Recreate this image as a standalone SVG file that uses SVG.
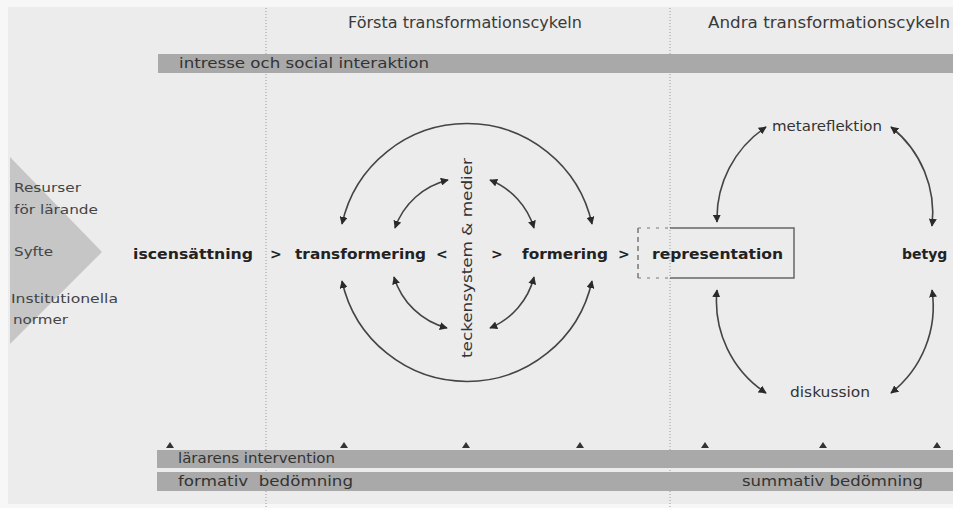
<svg xmlns="http://www.w3.org/2000/svg" width="953" height="508" viewBox="0 0 953 508">
<style>
text{font-family:"DejaVu Sans","Liberation Sans",sans-serif;fill:#333}
.t{font-size:15px;fill:#3a3a3a}
.lbl{font-size:13px;fill:#444}
.m{font-size:14px;font-weight:bold;fill:#222}
.s{font-size:13.5px;fill:#333}
.bar{fill:#a9a9a9}
.dot{stroke:#9a9a9a;stroke-width:1;stroke-dasharray:1 2;fill:none}
.arc{fill:none;stroke:#444;stroke-width:1.6;marker-start:url(#ah);marker-end:url(#ah)}
.tri{fill:#333}
</style>
<defs>
<marker id="ah" viewBox="0 0 10 10" refX="9" refY="5" markerWidth="5" markerHeight="5" orient="auto-start-reverse" markerUnits="strokeWidth">
<path d="M0,0 L10,5 L0,10 z" fill="#2a2a2a"/>
</marker>
</defs>
<rect width="953" height="508" fill="#f7f7f7"/>
<rect x="8" y="7" width="945" height="497" fill="#ececec"/>
<g id="dividers">
<line class="dot" x1="266" y1="8" x2="266" y2="508"/>
<line class="dot" x1="670" y1="8" x2="670" y2="508"/>
</g>
<g id="titles">
<text class="t" x="348" y="28" textLength="234" lengthAdjust="spacingAndGlyphs">Första transformationscykeln</text>
<text class="t" x="708" y="28" textLength="242" lengthAdjust="spacingAndGlyphs">Andra transformationscykeln</text>
</g>
<g id="interest-bar">
<rect class="bar" x="158" y="54" width="795" height="19"/>
<text class="s" x="179" y="68" textLength="250" lengthAdjust="spacingAndGlyphs">intresse och social interaktion</text>
</g>
<g id="inputs">
<polygon points="10,157 102,252 10,344" fill="#c6c6c6"/>
<text class="lbl" x="14" y="192" textLength="67" lengthAdjust="spacingAndGlyphs">Resurser</text>
<text class="lbl" x="14" y="214" textLength="84" lengthAdjust="spacingAndGlyphs">för lärande</text>
<text class="lbl" x="14" y="256" textLength="39" lengthAdjust="spacingAndGlyphs">Syfte</text>
<text class="lbl" x="11" y="303" textLength="107" lengthAdjust="spacingAndGlyphs">Institutionella</text>
<text class="lbl" x="13" y="324" textLength="55" lengthAdjust="spacingAndGlyphs">normer</text>
</g>
<g id="iscensattning"><text class="m" x="133" y="259" textLength="120" lengthAdjust="spacingAndGlyphs">iscensättning</text></g>
<g id="gt1"><text class="m" x="270" y="259">&gt;</text></g>
<g id="transformering"><text class="m" x="295" y="259" textLength="131" lengthAdjust="spacingAndGlyphs">transformering</text></g>
<g id="lt"><text class="m" x="436" y="259">&lt;</text></g>
<g id="teckensystem"><text class="s" transform="translate(472,358) rotate(-90)" textLength="200" lengthAdjust="spacingAndGlyphs">teckensystem &amp; medier</text></g>
<g id="gt2"><text class="m" x="491" y="259">&gt;</text></g>
<g id="formering"><text class="m" x="522" y="259" textLength="86" lengthAdjust="spacingAndGlyphs">formering</text></g>
<g id="gt3"><text class="m" x="618" y="259">&gt;</text></g>
<g id="representation">
<path d="M638,228 V278" stroke="#666" stroke-width="1.3" stroke-dasharray="5 4" fill="none"/>
<path d="M638,228 H670 M638,278 H670" stroke="#777" stroke-width="1.2" stroke-dasharray="3 6" fill="none"/>
<path d="M670,228 H794 V278 H670" stroke="#666" stroke-width="1.5" fill="none"/>
<text class="m" x="652" y="259" textLength="131" lengthAdjust="spacingAndGlyphs">representation</text>
</g>
<g id="betyg"><text class="m" x="902" y="259">betyg</text></g>
<g id="metareflektion"><text class="s" x="772" y="131" textLength="110" lengthAdjust="spacingAndGlyphs">metareflektion</text></g>
<g id="diskussion"><text class="s" x="790" y="397" textLength="80" lengthAdjust="spacingAndGlyphs">diskussion</text></g>
<g id="connectors">
<path class="arc" d="M342,224 A128,128 0 0 1 592,224"/>
<path class="arc" d="M342,281 A128,128 0 0 0 592,281"/>
<path class="arc" d="M395,228 A75,75 0 0 1 448,180"/>
<path class="arc" d="M490,180 A75,75 0 0 1 534,228"/>
<path class="arc" d="M394,277 A75,75 0 0 0 447,328"/>
<path class="arc" d="M490,328 A75,75 0 0 0 534,277"/>
<path class="arc" d="M717,222 A110,110 0 0 1 766,127"/>
<path class="arc" d="M891,127 A110,110 0 0 1 932,226"/>
<path class="arc" d="M717,290 A110,110 0 0 0 766,393"/>
<path class="arc" d="M891,393 A110,110 0 0 0 932,290"/>
</g>
<g id="intervention-bar">
<rect class="bar" x="157" y="450" width="796" height="18"/>
<text class="s" x="178" y="463" textLength="157" lengthAdjust="spacingAndGlyphs">lärarens intervention</text>
<g class="tri">
<polygon points="166,448 170,442 174,448"/>
<polygon points="340,448 344,442 348,448"/>
<polygon points="462,448 466,442 470,448"/>
<polygon points="576,448 580,442 584,448"/>
<polygon points="701,448 705,442 709,448"/>
<polygon points="819,448 823,442 827,448"/>
<polygon points="933,448 937,442 941,448"/>
</g>
</g>
<g id="assessment-bar">
<rect class="bar" x="157" y="472" width="796" height="19"/>
<text class="s" x="178" y="486" textLength="175" lengthAdjust="spacingAndGlyphs" xml:space="preserve">formativ  bedömning</text>
<text class="s" x="742" y="486" textLength="181" lengthAdjust="spacingAndGlyphs">summativ bedömning</text>
</g>
</svg>
